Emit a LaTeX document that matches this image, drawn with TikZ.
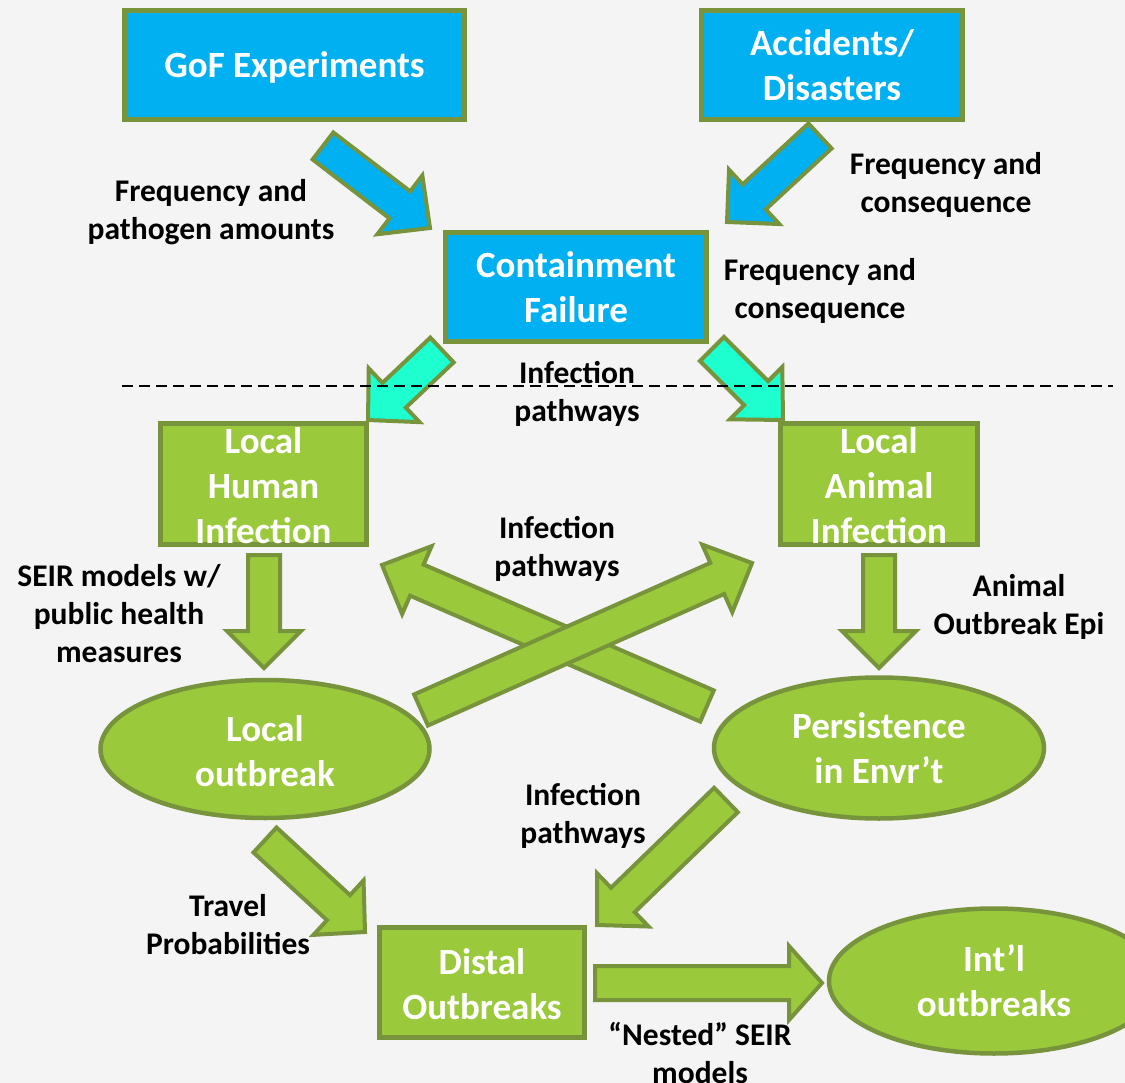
\documentclass[tikz,border=0pt]{standalone}
\usepackage{fontspec}
\setmainfont{Carlito}
\usetikzlibrary{calc,shapes.geometric}
\definecolor{bfill}{HTML}{00B0F0}
\definecolor{gborder}{HTML}{77933C}
\definecolor{gfill}{HTML}{9ACA3C}
\definecolor{cfill}{HTML}{1DFFCF}
\definecolor{bgc}{HTML}{F4F4F4}
\tikzset{
  bluebox/.style={draw=gborder, line width=4.5pt, fill=bfill, inner sep=0pt},
  greenbox/.style={draw=gborder, line width=4.5pt, fill=gfill, inner sep=0pt},
  greenell/.style={ellipse, draw=gborder, line width=4.5pt, fill=gfill, inner sep=0pt},
  btxt/.style={text=white, font=\fontsize{37}{45}\selectfont\bfseries, align=center, inner sep=0pt},
  lbl/.style={text=black, font=\fontsize{31.5}{38}\selectfont\bfseries, align=center, inner sep=0pt},
  arrowline/.style={draw=gborder, line width=4pt, line join=miter},
}
% #1 fill, #2 tail, #3 tip, #4 half shaft, #5 half head, #6 head length
\newcommand{\blockarrow}[6]{%
  \coordinate (bh) at ($(#3)!#6!(#2)$);
  \draw[arrowline, fill=#1]
    ($(#2)!#4!90:(#3)$) -- ($(bh)!#4!90:(#3)$) -- ($(bh)!#5!90:(#3)$) -- (#3)
    -- ($(bh)!#5!-90:(#3)$) -- ($(bh)!#4!-90:(#3)$) -- ($(#2)!#4!-90:(#3)$) -- cycle;
}
\begin{document}
\begin{tikzpicture}[x=1pt,y=-1pt]
\fill[bgc] (0,0) rectangle (1125,1083);
\useasboundingbox (0,0) rectangle (1125,1083);
\clip (0,0) rectangle (1125,1083);

% boxes
\node[bluebox, minimum width=340pt, minimum height=109pt] (gof) at (294.5,65) {};
\node[btxt] (goft) at ($(gof.center)+(0,2)$) {GoF Experiments};
\node[bluebox, minimum width=261pt, minimum height=109pt] (acc) at (832,65) {};
\node[btxt] (acct) at (acc.center) {Accidents/\\Disasters};
\node[bluebox, minimum width=261pt, minimum height=109pt] (cont) at (576,287) {};
\node[btxt] (contt) at (cont.center) {Containment\\Failure};
\node[greenbox, minimum width=206pt, minimum height=121pt] (lh) at (263.5,484) {};
\node[btxt] (lht) at ($(lh.center)+(0,2)$) {Local\\Human\\Infection};
\node[greenbox, minimum width=197pt, minimum height=121pt] (la) at (879,484) {};
\node[btxt] (lat) at ($(la.center)+(0,2)$) {Local\\Animal\\Infection};
\node[greenell, minimum width=329pt, minimum height=138pt] (lo) at (265,749) {};
\node[btxt] (lot) at ($(lo.center)+(0,2)$) {Local\\outbreak};
\node[greenell, minimum width=330pt, minimum height=141pt] (pe) at (879,748) {};
\node[btxt] (pet) at (pe.center) {Persistence\\in Envr’t};
\node[greenbox, minimum width=205pt, minimum height=110pt] (di) at (482,982.5) {};
\node[btxt] (dit) at ($(di.center)+(0,2)$) {Distal\\Outbreaks};
\node[greenell, minimum width=330pt, minimum height=145pt] (in) at (994,981) {};
\node[btxt] (int) at (in.center) {Int’l\\outbreaks};

% arrow end coordinates
\coordinate (a1t) at (323,146);  \coordinate (a1p) at (430,228);
\coordinate (a2t) at (820,136);  \coordinate (a2p) at (727,222);
\coordinate (a3t) at (442,350);  \coordinate (a3p) at (368,420);
\coordinate (a4t) at (712,349);  \coordinate (a4p) at (783,420);
\coordinate (a5t) at (264,555);  \coordinate (a5p) at (264,668);
\coordinate (a6t) at (879,555);  \coordinate (a6p) at (879,668);
\coordinate (a7t) at (707,706);  \coordinate (a7p) at (382,565);
\coordinate (a8t) at (421,710);  \coordinate (a8p) at (752,563);
\coordinate (a9t) at (726,800);  \coordinate (a9p) at (597,925);
\coordinate (a10t) at (265,840); \coordinate (a10p) at (365,932);
\coordinate (a11t) at (595,983); \coordinate (a11p) at (822,983);

\blockarrow{bfill}{a1t}{a1p}{17pt}{37pt}{38pt}
\blockarrow{bfill}{a2t}{a2p}{17pt}{37pt}{37pt}
\blockarrow{cfill}{a3t}{a3p}{17pt}{37pt}{36pt}
\blockarrow{cfill}{a4t}{a4p}{17pt}{37pt}{38pt}
\blockarrow{gfill}{a5t}{a5p}{16pt}{37pt}{37pt}
\blockarrow{gfill}{a6t}{a6p}{16pt}{37pt}{37pt}
\blockarrow{gfill}{a7t}{a7p}{17pt}{37pt}{38pt}
\blockarrow{gfill}{a8t}{a8p}{17pt}{37pt}{38pt}
\blockarrow{gfill}{a9t}{a9p}{17pt}{37pt}{36pt}
\blockarrow{gfill}{a10t}{a10p}{17pt}{37pt}{36pt}
\blockarrow{gfill}{a11t}{a11p}{17pt}{37pt}{33pt}

% dashed separator
\coordinate (dl) at (122,386);
\coordinate (dr) at (1113,386);
\draw[black, line width=1.8pt, dash pattern=on 11pt off 6pt] (dl) -- (dr);

% labels
\node[lbl] (l1) at (211,212) {Frequency and\\pathogen amounts};
\node[lbl] (l2) at (946,185) {Frequency and\\consequence};
\node[lbl] (l3) at (820,291) {Frequency and\\consequence};
\node[lbl] (l4) at (577,394) {Infection\\pathways};
\node[lbl] (l5) at (557,549) {Infection\\pathways};
\node[lbl] (l6) at (119,614) {SEIR models w/\\public health\\measures};
\node[lbl] (l7) at (1019,607) {Animal\\Outbreak Epi};
\node[lbl] (l8) at (583,816) {Infection\\pathways};
\node[lbl] (l9) at (228,925) {Travel\\Probabilities};
\node[lbl] (l10) at (700,1053) {“Nested” SEIR\\models};
\end{tikzpicture}
\end{document}
